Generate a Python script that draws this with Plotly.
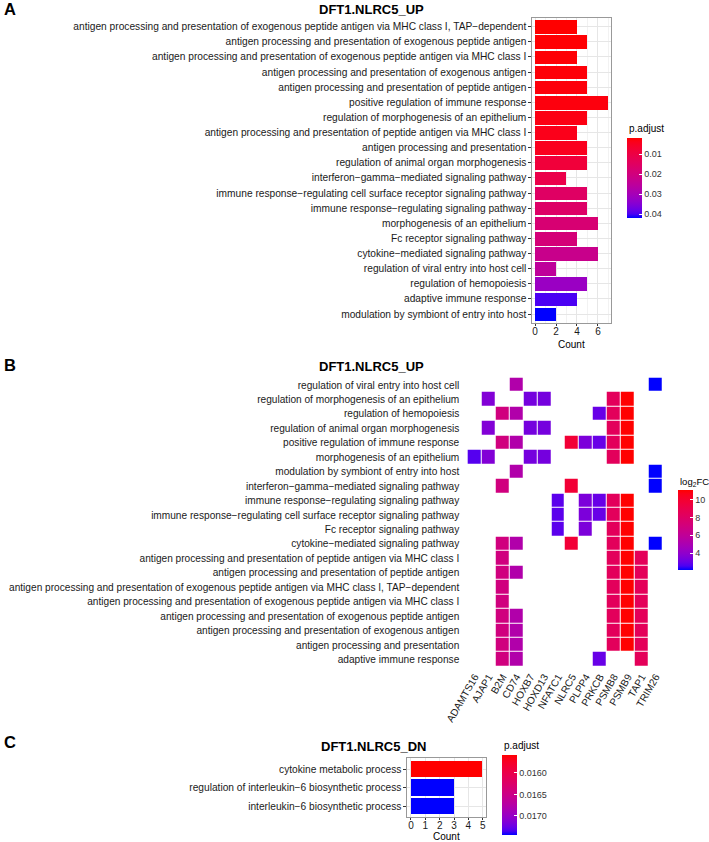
import plotly.graph_objects as go

W, H = 709, 842
FONT = "Liberation Sans"

# ---- panel A data (top to bottom) ----
terms_a = [
    "antigen processing and presentation of exogenous peptide antigen via MHC class I, TAP−dependent",
    "antigen processing and presentation of exogenous peptide antigen",
    "antigen processing and presentation of exogenous peptide antigen via MHC class I",
    "antigen processing and presentation of exogenous antigen",
    "antigen processing and presentation of peptide antigen",
    "positive regulation of immune response",
    "regulation of morphogenesis of an epithelium",
    "antigen processing and presentation of peptide antigen via MHC class I",
    "antigen processing and presentation",
    "regulation of animal organ morphogenesis",
    "interferon−gamma−mediated signaling pathway",
    "immune response−regulating cell surface receptor signaling pathway",
    "immune response−regulating signaling pathway",
    "morphogenesis of an epithelium",
    "Fc receptor signaling pathway",
    "cytokine−mediated signaling pathway",
    "regulation of viral entry into host cell",
    "regulation of hemopoiesis",
    "adaptive immune response",
    "modulation by symbiont of entry into host",
]
count_a = [4, 5, 4, 5, 5, 7, 5, 4, 5, 5, 3, 5, 5, 6, 4, 6, 2, 5, 4, 2]
padj_a = [0.0020, 0.0022, 0.0024, 0.0026, 0.0028, 0.0030, 0.0035, 0.0040, 0.0045, 0.0085,
          0.0110, 0.0155, 0.0160, 0.0180, 0.0190, 0.0225, 0.0250, 0.0320, 0.0400, 0.0420]

# ---- panel B data ----
genes = ["ADAMTS16", "AJAP1", "B2M", "CD74", "HOXB7", "HOXD13", "NFATC1",
         "NLRC5", "PLPP4", "PRKCB", "PSMB8", "PSMB9", "TAP1", "TRIM26"]
log2fc = [2.7, 3.6, 7.0, 5.3, 3.3, 3.3, 2.8, 9.8, 3.45, 3.0, 8.4, 11.1, 8.5, 2.1]
terms_b = [
    "regulation of viral entry into host cell",
    "regulation of morphogenesis of an epithelium",
    "regulation of hemopoiesis",
    "regulation of animal organ morphogenesis",
    "positive regulation of immune response",
    "morphogenesis of an epithelium",
    "modulation by symbiont of entry into host",
    "interferon−gamma−mediated signaling pathway",
    "immune response−regulating signaling pathway",
    "immune response−regulating cell surface receptor signaling pathway",
    "Fc receptor signaling pathway",
    "cytokine−mediated signaling pathway",
    "antigen processing and presentation of peptide antigen via MHC class I",
    "antigen processing and presentation of peptide antigen",
    "antigen processing and presentation of exogenous peptide antigen via MHC class I, TAP−dependent",
    "antigen processing and presentation of exogenous peptide antigen via MHC class I",
    "antigen processing and presentation of exogenous peptide antigen",
    "antigen processing and presentation of exogenous antigen",
    "antigen processing and presentation",
    "adaptive immune response",
]
members_b = [
    ["CD74", "TRIM26"],
    ["AJAP1", "HOXB7", "HOXD13", "PSMB8", "PSMB9"],
    ["B2M", "CD74", "PRKCB", "PSMB8", "PSMB9"],
    ["AJAP1", "HOXB7", "HOXD13", "PSMB8", "PSMB9"],
    ["B2M", "CD74", "NLRC5", "PLPP4", "PRKCB", "PSMB8", "PSMB9"],
    ["ADAMTS16", "AJAP1", "HOXB7", "HOXD13", "PSMB8", "PSMB9"],
    ["CD74", "TRIM26"],
    ["B2M", "NLRC5", "TRIM26"],
    ["NFATC1", "PLPP4", "PRKCB", "PSMB8", "PSMB9"],
    ["NFATC1", "PLPP4", "PRKCB", "PSMB8", "PSMB9"],
    ["NFATC1", "PLPP4", "PSMB8", "PSMB9"],
    ["B2M", "CD74", "NLRC5", "PSMB8", "PSMB9", "TRIM26"],
    ["B2M", "PSMB8", "PSMB9", "TAP1"],
    ["B2M", "CD74", "PSMB8", "PSMB9", "TAP1"],
    ["B2M", "PSMB8", "PSMB9", "TAP1"],
    ["B2M", "PSMB8", "PSMB9", "TAP1"],
    ["B2M", "CD74", "PSMB8", "PSMB9", "TAP1"],
    ["B2M", "CD74", "PSMB8", "PSMB9", "TAP1"],
    ["B2M", "CD74", "PSMB8", "PSMB9", "TAP1"],
    ["B2M", "CD74", "PRKCB", "TAP1"],
]

# ---- panel C data ----
terms_c = ["cytokine metabolic process",
           "regulation of interleukin−6 biosynthetic process",
           "interleukin−6 biosynthetic process"]
count_c = [5, 3, 3]
padj_c = [0.01559, 0.01744, 0.01744]


# ggplot-like blue -> red gradient interpolated in Lab space
def _lin(c):
    c = c / 255
    return c / 12.92 if c <= 0.04045 else ((c + 0.055) / 1.055) ** 2.4

def _f(t):
    return t ** (1 / 3) if t > (6 / 29) ** 3 else t / (3 * (6 / 29) ** 2) + 4 / 29

def _finv(t):
    return t ** 3 if t > 6 / 29 else 3 * (6 / 29) ** 2 * (t - 4 / 29)

def to_lab(rgb):
    r, g, b = [_lin(c) for c in rgb]
    x = (0.4124 * r + 0.3576 * g + 0.1805 * b) / 0.95047
    y = 0.2126 * r + 0.7152 * g + 0.0722 * b
    z = (0.0193 * r + 0.1192 * g + 0.9505 * b) / 1.08883
    return 116 * _f(y) - 16, 500 * (_f(x) - _f(y)), 200 * (_f(y) - _f(z))

def from_lab(L, a, b):
    fy = (L + 16) / 116
    x = 0.95047 * _finv(fy + a / 500)
    y = _finv(fy)
    z = 1.08883 * _finv(fy - b / 200)
    rl = 3.2406 * x - 1.5372 * y - 0.4986 * z
    gl = -0.9689 * x + 1.8758 * y + 0.0415 * z
    bl = 0.0557 * x - 0.2040 * y + 1.0570 * z
    out = []
    for c in (rl, gl, bl):
        c = min(max(c, 0), 1)
        c = 12.92 * c if c <= 0.0031308 else 1.055 * c ** (1 / 2.4) - 0.055
        out.append(round(c * 255))
    return "rgb(%d,%d,%d)" % tuple(out)

lo, hi = to_lab((0, 0, 255)), to_lab((255, 0, 0))
scale = [[i / 20, from_lab(*[lo[k] + (hi[k] - lo[k]) * i / 20 for k in range(3)])] for i in range(21)]


def px(x):
    return x / W

def py(y):
    return 1 - y / H


txt = dict(family=FONT, size=10.2, color="#1a1a1a")
txt_b = dict(family=FONT, size=10.15, color="#1a1a1a")
tick_font = dict(family=FONT, size=10, color="#1a1a1a")
cb_font = dict(family=FONT, size=9, color="#333333")
fig = go.Figure()

# A: bar chart (colour uses -p.adjust so small values sit at the top of the bar)
fig.add_trace(go.Bar(
    x=count_a, y=terms_a, orientation="h", width=0.9, xaxis="x", yaxis="y",
    marker=dict(color=[-p for p in padj_a], colorscale=scale, cmin=-0.042, cmax=-0.002,
                line=dict(width=0),
                colorbar=dict(x=px(627.3), xanchor="left", xpad=0, y=py(138.3), yanchor="top",
                              ypad=0, len=80, lenmode="pixels", thickness=15, outlinewidth=0,
                              tickvals=[-0.01, -0.02, -0.03, -0.04],
                              ticktext=["0.01", "0.02", "0.03", "0.04"],
                              ticks="inside", tickcolor="white", ticklen=3, tickfont=cb_font)),
    showlegend=False))

# B: heat plot
z = [[log2fc[genes.index(g)] if g in row else None for g in genes] for row in members_b]
fig.add_trace(go.Heatmap(
    z=z, x=genes, y=terms_b, xaxis="x2", yaxis="y2", colorscale=scale,
    zmin=2.1, zmax=11.1, xgap=1, ygap=1, hoverongaps=False,
    colorbar=dict(x=px(678.3), xanchor="left", xpad=0, y=py(490), yanchor="top", ypad=0,
                  len=80, lenmode="pixels", thickness=15, outlinewidth=0,
                  tickvals=[4, 6, 8, 10], ticks="inside", tickcolor="white", ticklen=3,
                  tickfont=cb_font)))

# C: bar chart
fig.add_trace(go.Bar(
    x=count_c, y=terms_c, orientation="h", width=0.9, xaxis="x3", yaxis="y3",
    marker=dict(color=[-p for p in padj_c], colorscale=scale, cmin=-0.01744, cmax=-0.01559,
                line=dict(width=0),
                colorbar=dict(x=px(502), xanchor="left", xpad=0, y=py(755), yanchor="top",
                              ypad=0, len=80, lenmode="pixels", thickness=15, outlinewidth=0,
                              tickvals=[-0.016, -0.0165, -0.017],
                              ticktext=["0.0160", "0.0165", "0.0170"],
                              ticks="inside", tickcolor="white", ticklen=3, tickfont=cb_font)),
    showlegend=False))

bar_x = dict(showline=True, mirror=True, linecolor="#999999", linewidth=1,
             ticks="outside", ticklen=2, tickcolor="#333333", tickfont=tick_font,
             ticklabelstandoff=-3,
             gridcolor="#E6E6E6", gridwidth=1, zeroline=False,
             minor=dict(dtick=1, showgrid=True, gridcolor="#F2F2F2", ticks=""))
bar_y = dict(type="category", showline=True, mirror=True, linecolor="#999999", linewidth=1,
             ticks="outside", ticklen=3, tickcolor="#333333", tickfont=txt,
             gridcolor="#E6E6E6", gridwidth=1)

fig.update_layout(
    width=W, height=H, margin=dict(l=0, r=0, t=0, b=0, autoexpand=False),
    paper_bgcolor="white", plot_bgcolor="white", bargap=0,
    font=dict(family=FONT),
    xaxis=dict(domain=[px(532.4), px(611.4)], anchor="y", range=[-0.25, 7.28],
               tickvals=[0, 2, 4, 6], **bar_x),
    yaxis=dict(domain=[py(323.1), py(17.6)], anchor="x", range=[-0.6, 19.6],
               categoryorder="array", categoryarray=terms_a[::-1], **bar_y),
    xaxis2=dict(domain=[px(466.3), px(664)], anchor="y2", type="category",
                range=[-0.6, 13.6], showgrid=False, zeroline=False, showline=False,
                tickangle=-60, ticks="", tickfont=txt_b),
    yaxis2=dict(domain=[py(668.1), py(376.3)], anchor="x2", type="category",
                range=[-0.6, 19.6], categoryorder="array", categoryarray=terms_b[::-1],
                showgrid=False, zeroline=False, showline=False,
                ticks="outside", ticklen=4, tickcolor="rgba(0,0,0,0)", tickfont=txt_b),
    xaxis3=dict(domain=[px(407.4), px(486.3)], anchor="y3", range=[-0.25, 5.25],
                tickvals=[0, 1, 2, 3, 4, 5], **bar_x),
    yaxis3=dict(domain=[py(817.1), py(757.9)], anchor="x3", range=[-0.6, 2.6],
                categoryorder="array", categoryarray=terms_c[::-1], **bar_y),
)

def note(text, x, y, size=10, bold=False, xanchor="center"):
    fig.add_annotation(text="<b>%s</b>" % text if bold else text, x=px(x), y=py(y),
                       xref="paper", yref="paper", xanchor=xanchor, yanchor="middle",
                       showarrow=False, font=dict(family=FONT, size=size, color="black"))

note("A", 2, 9, 16.5, True, "left")
note("B", 2, 365, 16.5, True, "left")
note("C", 2, 742, 16.5, True, "left")
note("DFT1.NLRC5_UP", 371.5, 9, 13, True)
note("DFT1.NLRC5_UP", 371.5, 366, 13, True)
note("DFT1.NLRC5_DN", 374, 746, 13, True)
note("Count", 571.9, 344)
note("Count", 446.8, 836.5)
note("p.adjust", 627, 128.3, 10, False, "left")
note("log<sub>2</sub>FC", 678, 481.7, 9.5, False, "left")
note("p.adjust", 502, 745.7, 10, False, "left")

# drop the default 8px page margin so the figure sits at the window origin
fig.write_html("out.html", config={"displayModeBar": False},
               post_script="document.body.style.margin='0';")
